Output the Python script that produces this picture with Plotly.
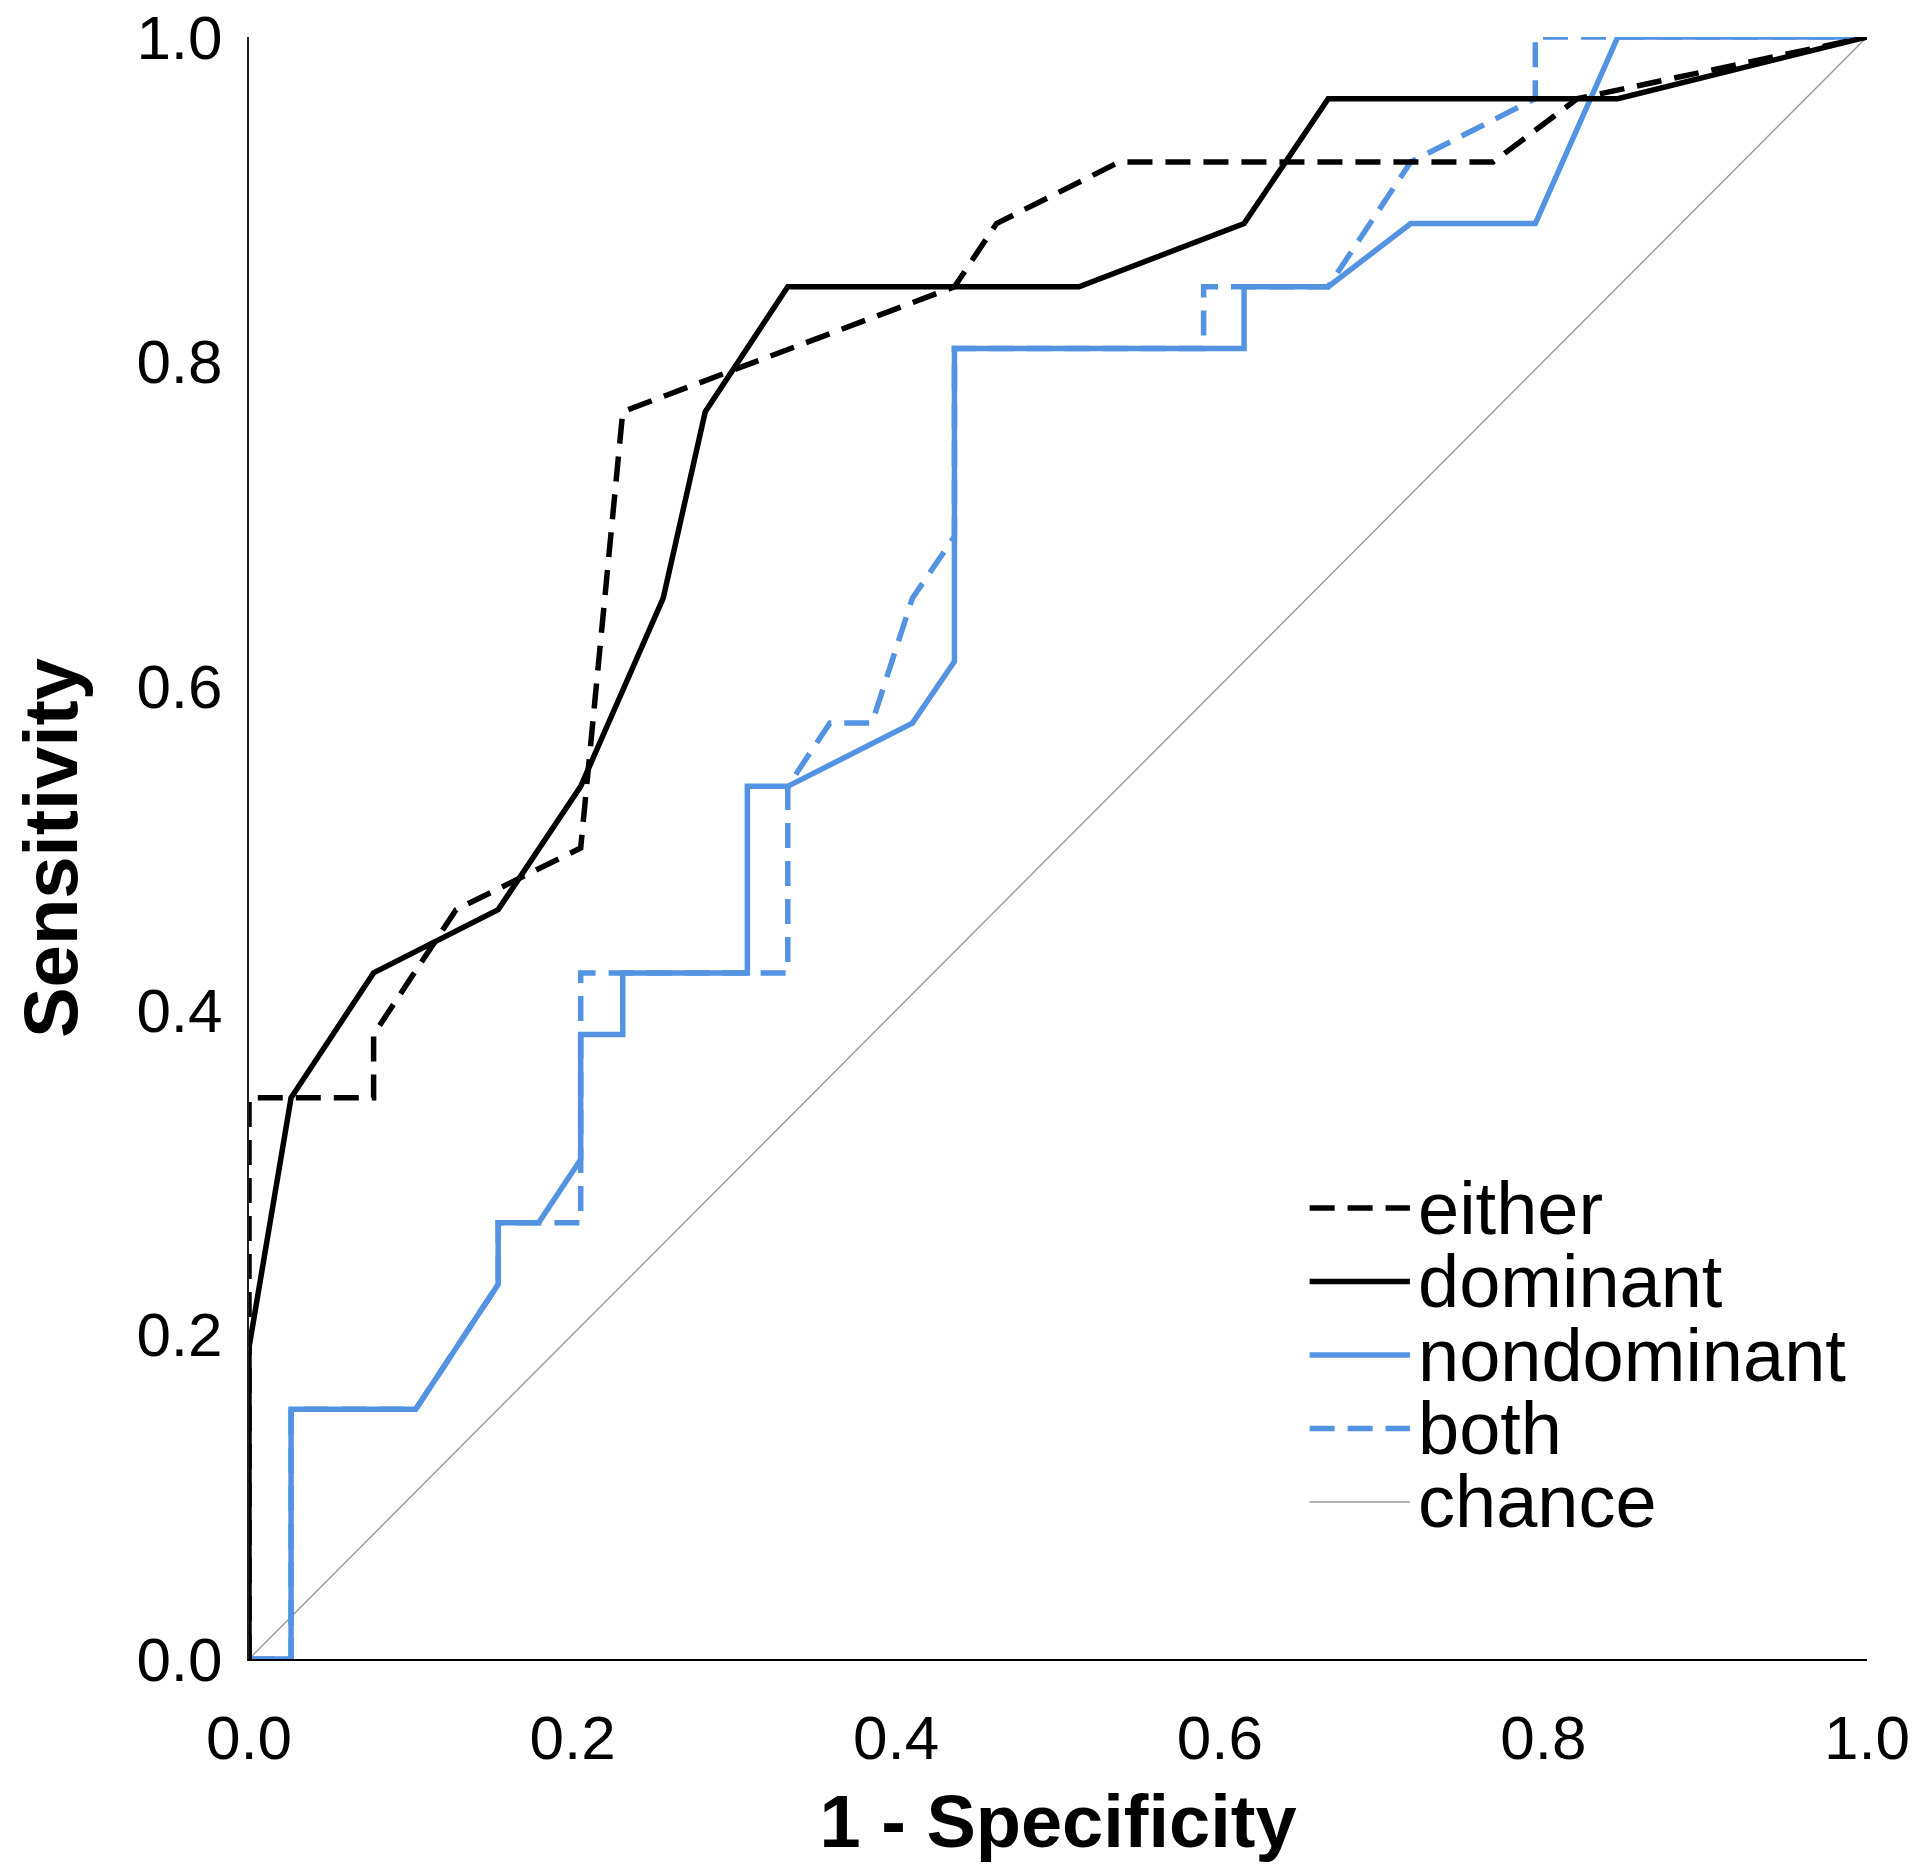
"""
ROC curves: either / dominant / nondominant / both vs chance.
"""

import plotly.graph_objects as go

# ── Data ───────────────────────────────────────────────────────────────────
either_x = [0.000, 0.000, 0.000, 0.077, 0.077, 0.128, 0.205, 0.231, 0.436, 0.462, 0.538, 0.769, 0.821, 1.000]
either_y = [0.000, 0.192, 0.346, 0.346, 0.385, 0.462, 0.500, 0.769, 0.846, 0.885, 0.923, 0.923, 0.962, 1.000]

dominant_x = [0.000, 0.000, 0.026, 0.077, 0.154, 0.205, 0.256, 0.282, 0.333, 0.513, 0.615, 0.667, 0.846, 1.000]
dominant_y = [0.000, 0.192, 0.346, 0.423, 0.462, 0.538, 0.654, 0.769, 0.846, 0.846, 0.885, 0.962, 0.962, 1.000]

nondominant_x = [0.000, 0.026, 0.026, 0.103, 0.154, 0.154, 0.179, 0.205, 0.205, 0.231, 0.231, 0.308,
                 0.308, 0.333, 0.410, 0.436, 0.436, 0.615, 0.615, 0.667, 0.718, 0.795, 0.846, 1.000]
nondominant_y = [0.000, 0.000, 0.154, 0.154, 0.231, 0.269, 0.269, 0.308, 0.385, 0.385, 0.423, 0.423,
                 0.538, 0.538, 0.577, 0.615, 0.808, 0.808, 0.846, 0.846, 0.885, 0.885, 1.000, 1.000]

both_x = [0.000, 0.026, 0.026, 0.103, 0.154, 0.154, 0.179, 0.205, 0.205, 0.333, 0.333, 0.359,
          0.385, 0.410, 0.436, 0.436, 0.590, 0.590, 0.667, 0.718, 0.795, 0.795, 1.000]
both_y = [0.000, 0.000, 0.154, 0.154, 0.231, 0.269, 0.269, 0.269, 0.423, 0.423, 0.538, 0.577,
          0.577, 0.654, 0.692, 0.808, 0.808, 0.846, 0.846, 0.923, 0.962, 1.000, 1.000]

chance_x = [0.0, 1.0]
chance_y = [0.0, 1.0]

tick_vals = [0.0, 0.2, 0.4, 0.6, 0.8, 1.0]
tick_text = ["0.0", "0.2", "0.4", "0.6", "0.8", "1.0"]

# Colores
BLACK = "#000000"
BLUE  = "#5393E2"
GREY  = "#999999"
DASH  = "25px,13px"
FONT  = "Arial, Liberation Sans, sans-serif"

# ── Figura ─────────────────────────────────────────────────────────────────
fig = go.Figure()

series = [
    ("either",      either_x,      either_y,      BLACK, DASH,    5.5),
    ("dominant",    dominant_x,    dominant_y,    BLACK, "solid", 5.5),
    ("nondominant", nondominant_x, nondominant_y, BLUE,  "solid", 5.5),
    ("both",        both_x,        both_y,        BLUE,  DASH,    5.5),
    ("chance",      chance_x,      chance_y,      GREY,  "solid", 1.4),
]

# chance first so it sits underneath
for name, xs, ys, col, dash, w in reversed(series):
    fig.add_trace(go.Scatter(
        x=xs, y=ys, mode="lines", name=name,
        line=dict(color=col, dash=dash, width=w),
        showlegend=False,
    ))

# ── Leyenda manual (paper coords) ──────────────────────────────────────────
leg_x0, leg_x1, leg_tx = 0.6555, 0.7175, 0.7215
leg_y0, leg_dy = 0.278, 0.0453
for i, (name, xs, ys, col, dash, w) in enumerate(series):
    yy = leg_y0 - i * leg_dy
    fig.add_shape(type="line", xref="paper", yref="paper",
                  x0=leg_x0, x1=leg_x1, y0=yy, y1=yy,
                  line=dict(color=col, dash=dash, width=w if w > 2 else 1.5))
    fig.add_annotation(text=name, xref="paper", yref="paper", x=leg_tx, y=yy,
                       xanchor="left", yanchor="middle", showarrow=False,
                       font=dict(family=FONT, size=74, color=BLACK))

# ── Layout ─────────────────────────────────────────────────────────────────
# page has an 8px body margin, so margins are trimmed to land the plot area
# where the reference has it
fig.update_layout(
    width=1920, height=1873,
    paper_bgcolor="white", plot_bgcolor="white",
    margin=dict(l=241, r=61, t=29, b=222),
    font=dict(family=FONT, color=BLACK),
    showlegend=False,
)

fig.update_xaxes(
    range=[0, 1], tickvals=tick_vals, ticktext=tick_text, automargin=False,
    showgrid=False, zeroline=False, showline=True, linecolor=BLACK, linewidth=2,
    ticks="", ticklabelstandoff=24, ticklabeloverflow="allow",
    tickfont=dict(family=FONT, size=62, color=BLACK),
    title=dict(text="<b>1 - Specificity</b>", font=dict(family=FONT, size=74, color=BLACK), standoff=24),
)
fig.update_yaxes(
    range=[0, 1], tickvals=tick_vals, ticktext=tick_text, automargin=False,
    showgrid=False, zeroline=False, showline=True, linecolor="#222222", linewidth=2,
    ticks="", ticklabelstandoff=12, ticklabeloverflow="allow",
    tickfont=dict(family=FONT, size=62, color=BLACK),
    title=dict(text="<b>Sensitivity</b>", font=dict(family=FONT, size=76, color=BLACK), standoff=75),
)

fig.write_html("out.html")
